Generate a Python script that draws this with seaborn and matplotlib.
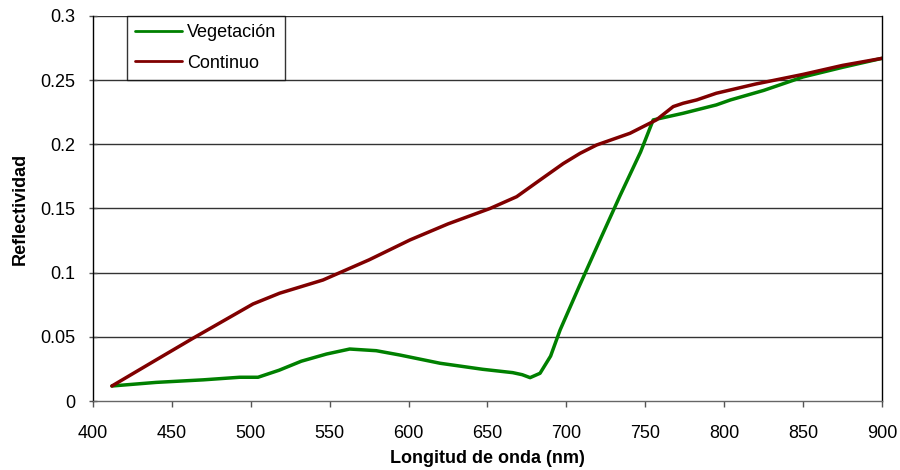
import matplotlib
matplotlib.use("Agg")
import matplotlib.pyplot as plt
import seaborn as sns
import pandas as pd

# Data
veg_x = [412, 440, 470, 493, 504.6, 518, 532, 548, 562.7, 579.5, 594.6, 620, 647, 666, 672, 677, 683.3, 690, 696, 708, 721.3, 734, 747, 755, 774, 795, 804, 825, 850, 875, 900]
veg_y = [0.0117, 0.0145, 0.0165, 0.0185, 0.0185, 0.024, 0.031, 0.0366, 0.0405, 0.0392, 0.0358, 0.0294, 0.0247, 0.0221, 0.0205, 0.0182, 0.0216, 0.035, 0.0553, 0.089, 0.1255, 0.160, 0.194, 0.219, 0.2242, 0.2307, 0.2346, 0.242, 0.2525, 0.260, 0.267]

cont_x = [412, 440, 463.4, 501.4, 518.3, 545.8, 575, 600.9, 625, 651.6, 668.5, 683.3, 698, 708.7, 719.2, 740.3, 757, 767.7, 774, 782.6, 795, 820, 850, 875, 900]
cont_y = [0.0117, 0.032, 0.0489, 0.0756, 0.084, 0.0943, 0.110, 0.1255, 0.138, 0.150, 0.1592, 0.1722, 0.185, 0.193, 0.1995, 0.2086, 0.219, 0.2294, 0.232, 0.2346, 0.2398, 0.247, 0.2545, 0.2615, 0.267]

series_names = ["Vegetación", "Continuo"]
colors = ["#008000", "#800000"]

x_ticks = [400, 450, 500, 550, 600, 650, 700, 750, 800, 850, 900]
y_ticks = [0, 0.05, 0.1, 0.15, 0.2, 0.25, 0.3]
y_tick_labels = ["0", "0.05", "0.1", "0.15", "0.2", "0.25", "0.3"]

df = pd.concat([
    pd.DataFrame({"x": veg_x, "y": veg_y, "serie": series_names[0]}),
    pd.DataFrame({"x": cont_x, "y": cont_y, "serie": series_names[1]}),
], ignore_index=True)

sns.set_style("white")
plt.rcParams["font.family"] = ["Liberation Sans", "DejaVu Sans"]

fig = plt.figure(figsize=(9, 4.7), dpi=100)
ax = fig.add_axes([0.1033, 0.1468, 0.8767, 0.8192])

sns.lineplot(data=df, x="x", y="y", hue="serie", palette=colors, sort=False,
             estimator=None, linewidth=2.5, ax=ax, hue_order=series_names)

ax.set_xlim(400, 900)
ax.set_ylim(0, 0.3)
ax.set_xticks(x_ticks)
ax.set_yticks(y_ticks)
ax.set_yticklabels(y_tick_labels)
ax.tick_params(axis="both", labelsize=13, labelcolor="black")
ax.tick_params(axis="x", direction="out", length=4.3, width=1, color="#555555", pad=13, bottom=True)
ax.tick_params(axis="y", direction="inout", length=6, width=1, color="#555555", pad=10, left=True)

for yv in [0.05, 0.1, 0.15, 0.2, 0.25, 0.3]:
    ax.axhline(yv, color="#333333", linewidth=1, zorder=0)

ax.spines["top"].set_visible(False)
ax.spines["left"].set_color("black")
ax.spines["right"].set_color("black")
ax.spines["bottom"].set_color("#666666")
for s in ax.spines.values():
    s.set_linewidth(1)

ax.set_xlabel("Longitud de onda (nm)", fontsize=13, fontweight="bold", labelpad=6, color="black")
ax.set_ylabel("Reflectividad", fontsize=13, fontweight="bold", labelpad=8, color="black")

leg = ax.legend(loc="upper left", bbox_to_anchor=(0.043, 1.0), frameon=True,
                fancybox=False, edgecolor="black", fontsize=13, handlelength=2.6,
                borderpad=0.45, labelspacing=0.75, handletextpad=0.3, borderaxespad=0)
leg.get_frame().set_linewidth(1)
for line in leg.get_lines():
    line.set_linewidth(2)
for t in leg.get_texts():
    t.set_color("black")

fig.savefig("out.png", dpi=100)
